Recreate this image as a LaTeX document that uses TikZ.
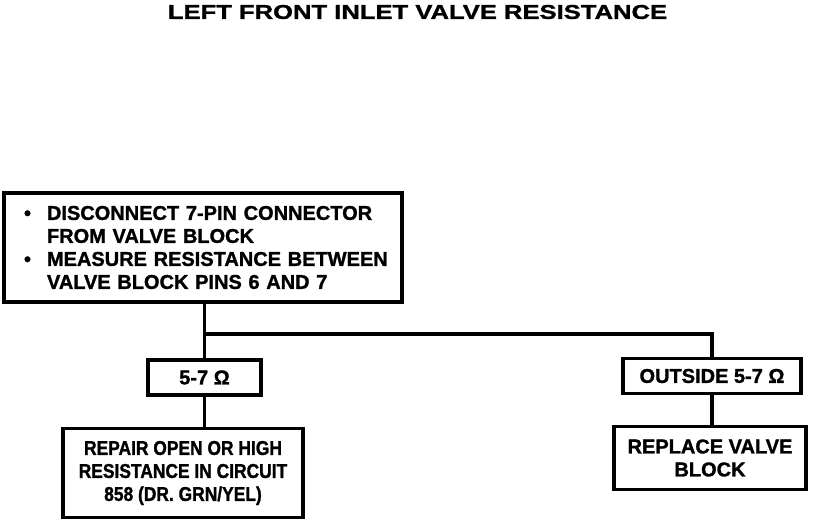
\documentclass[tikz,border=0pt]{standalone}
\usepackage{fontspec}
\setmainfont{Liberation Sans}[FakeBold=1.3]
\newfontfamily\titlefont{Liberation Sans}[FakeStretch=1.28,FakeBold=1.3]
\newfontfamily\narrowfont{Liberation Sans}[FakeStretch=0.87,FakeBold=1.3]
\begin{document}
\begin{tikzpicture}[x=1pt,y=-1pt,
  box/.style={draw, line width=3.4pt, inner sep=0pt, font=\fontsize{20}{23}\selectfont\bfseries, align=center},
  conn/.style={line width=3.4pt},
  titlestyle/.style={inner sep=0pt, font=\titlefont\fontsize{20}{23}\selectfont\bfseries}]
\path[use as bounding box] (0,0) rectangle (832,522);
\node[titlestyle] (title) at (417.5,12) {LEFT FRONT INLET VALVE RESISTANCE};
\node[box, align=left, text width=378pt, inner xsep=10pt, minimum height=109pt] (top) at (203,247.5)
  {\makebox[33pt][l]{\hspace{10pt}\textbullet}DISCONNECT 7-PIN CONNECTOR\\
   \hspace*{33pt}FROM VALVE BLOCK\\
   \makebox[33pt][l]{\hspace{10pt}\textbullet}MEASURE RESISTANCE BETWEEN\\
   \hspace*{33pt}VALVE BLOCK PINS 6 AND 7};
\node[box, minimum width=113pt, minimum height=35pt] (ls) at (204.5,377.5) {5-7 Ω};
\node[box, minimum width=178pt, minimum height=35pt] (rs) at (712,376) {OUTSIDE 5-7 Ω};
\node[box, minimum width=240pt, minimum height=89pt, font=\narrowfont\fontsize{20}{23}\selectfont\bfseries] (bl) at (183,473)
  {REPAIR OPEN OR HIGH\\RESISTANCE IN CIRCUIT\\858 (DR. GRN/YEL)};
\node[box, minimum width=192pt, minimum height=63pt] (br) at (710,458)
  {REPLACE VALVE\\BLOCK};
\coordinate (j) at (204,334);
\draw[conn] (ls.north |- top.south) -- (ls.north);
\draw[conn] (j -| ls.north) -| (rs.north);
\draw[conn] (ls.south) -- (ls.south |- bl.north);
\draw[conn] (rs.south) -- (rs.south |- br.north);
\end{tikzpicture}
\end{document}
